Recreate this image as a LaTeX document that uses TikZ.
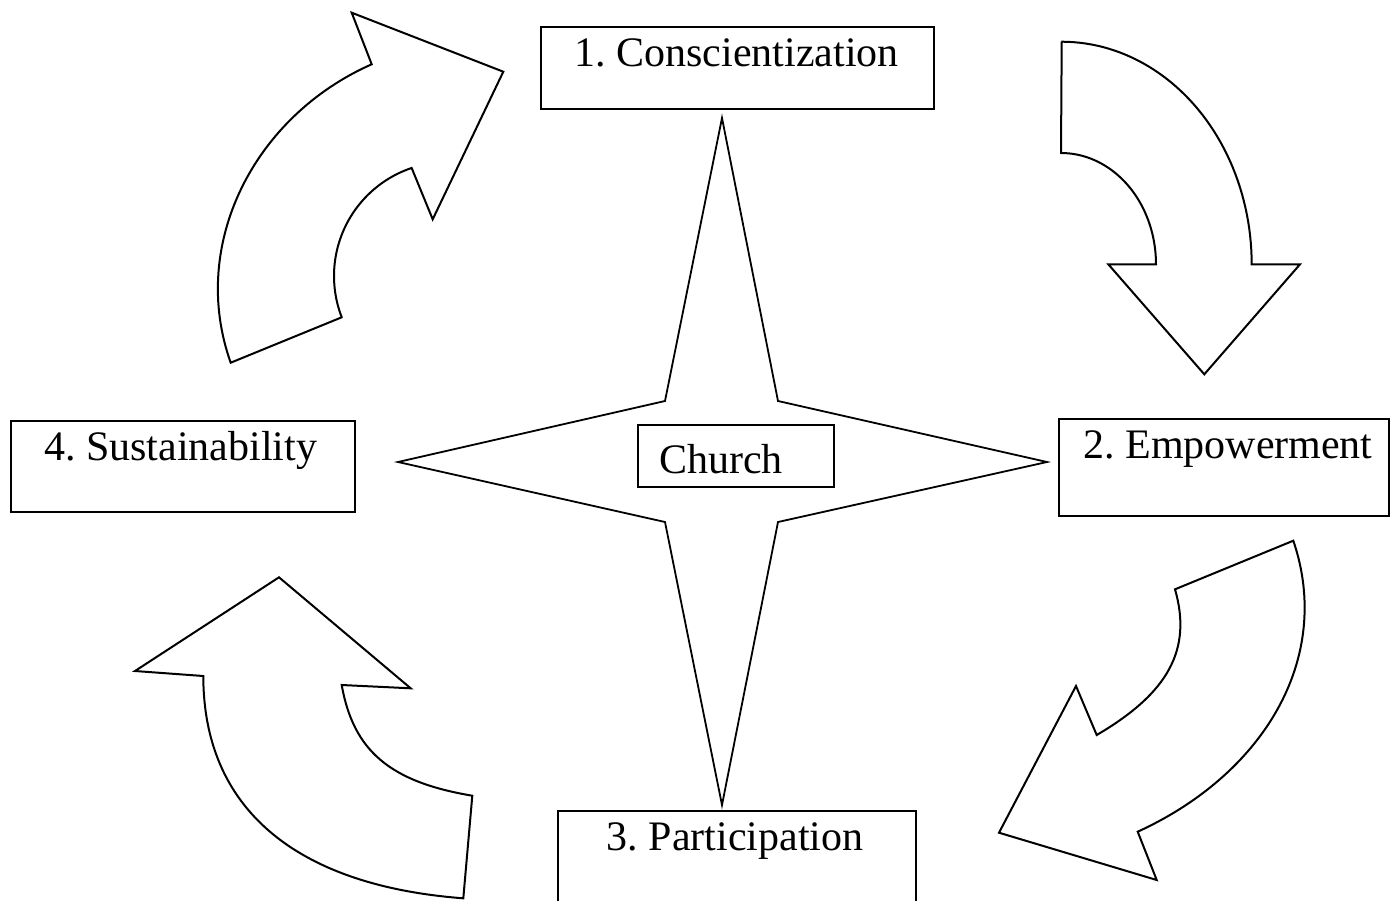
\documentclass[tikz,border=0pt]{standalone}
\usepackage{fontspec}
\setmainfont{Liberation Serif}
\begin{document}
\frenchspacing
\begin{tikzpicture}[x=1pt, y=-1pt,
  boxstyle/.style={draw, line width=2.6pt, inner sep=0pt, fill=white},
  churchbox/.style={draw, line width=2.2pt, inner sep=0pt, fill=white},
  lbl/.style={font=\fontsize{42}{50}\selectfont, inner sep=0pt},
  shapeline/.style={draw, line width=2pt, line join=miter, fill=white},
  starline/.style={draw, line width=1.8pt, line join=miter, fill=white}]
\useasboundingbox (0,0) rectangle (1390,900);
\clip (0,0) rectangle (1390,900);
\fill[white] (0,0) rectangle (1390,900);

% central star
\draw[starline] (722,118) -- (778,401) -- (1047,462) -- (778,522) -- (722,805)
  -- (665,522) -- (398,462) -- (665,401) -- cycle;

% boxes
\node[boxstyle, minimum width=393pt, minimum height=82pt] (b1) at (737.5,68) {};
\node[boxstyle, minimum width=330pt, minimum height=97pt] (b2) at (1224,467.5) {};
\node[boxstyle, minimum width=358pt, minimum height=120pt] (b3) at (737,871) {};
\node[boxstyle, minimum width=344pt, minimum height=91pt] (b4) at (183,466.5) {};
\node[churchbox, minimum width=196pt, minimum height=62pt] (bc) at (736,456) {};

% labels
\node[lbl, anchor=base] (t1) at (736.5,66) {1. Conscientization};
\node[lbl, anchor=base] (t2) at (1228,458) {2. Empowerment};
\node[lbl, anchor=base] (t3) at (735,850) {3. Participation};
\node[lbl, anchor=base] (t4) at (180.5,460) {4. Sustainability};
\node[lbl, anchor=base] (tc) at (721,473) {Church};

% arrow A (top left, towards 1)
\draw[shapeline] (230.7,362.7) -- (341.7,317.3)
  -- plot[domain=158.8:251.4, samples=50] ({448+114*cos(\x)},{276+114*sin(\x)})
  -- (432.7,219.3) -- (503.3,71.7) -- (351.7,12.7) -- (371.7,64.3)
  .. controls (254.1,116.2) and (188.5,244.4) .. (230.7,362.7)
  -- cycle;

% arrow B (top right, towards 2)
\draw[shapeline] (1061.7,41.7) -- (1061,153)
  -- plot[domain=-90:0, samples=40] ({1061+95*cos(\x)},{264.3+111.3*sin(\x)})
  -- (1108.3,264.3) -- (1204.3,374.3) -- (1300,264.3) -- (1251.7,264.3)
  -- plot[domain=0:-90, samples=50] ({1061.5+190.2*cos(\x)},{264.3+222.6*sin(\x)})
  -- cycle;

% arrow C (bottom right, towards 3)
\draw[shapeline] (1293.3,540.7) -- (1175,589.3)
  .. controls (1192.2,649.2) and (1168.7,692.9) .. (1096.7,735)
  -- (1076,686) -- (999,832.7) -- (1156.7,880) -- (1137.7,831.7)
  .. controls (1263.4,774.2) and (1333.5,658.6) .. (1293.3,540.7)
  -- cycle;

% arrow D (bottom left, towards 4)
\draw[shapeline] (463.3,898.3) -- (472.3,795.7)
  .. controls (390,781.9) and (353.4,751) .. (341.7,685)
  -- (410.7,688.3) -- (279,577.3) -- (135,671) -- (203.3,676)
  .. controls (203.3,807.6) and (294.3,885.4) .. (463.3,898.3)
  -- cycle;
\end{tikzpicture}
\end{document}
